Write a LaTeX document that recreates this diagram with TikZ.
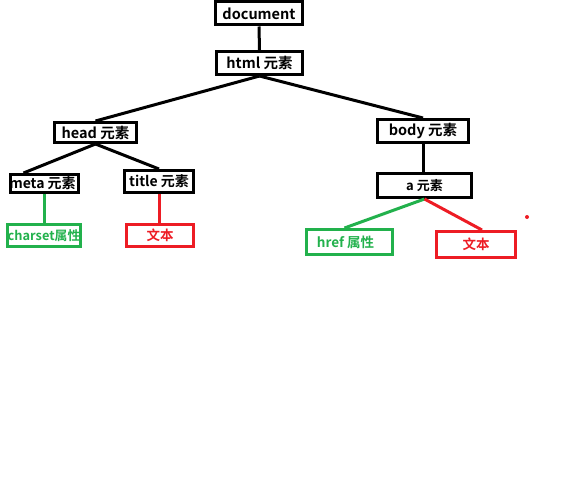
\documentclass[tikz,border=0pt]{standalone}
\usepackage{fontspec}
\setmainfont{Noto Sans CJK SC}[BoldFont=* Bold]
\definecolor{pgreen}{RGB}{34,177,76}
\definecolor{pred}{RGB}{237,28,36}
\tikzset{
  box/.style={draw=black, line width=3pt, inner sep=0pt, align=center, font=\bfseries\fontsize{14.5}{16}\selectfont, text=black},
  gbox/.style={box, draw=pgreen, text=pgreen, font=\bfseries\fontsize{13.5}{15}\selectfont},
  rbox/.style={box, draw=pred, text=pred, font=\bfseries\fontsize{13.5}{15}\selectfont},
  link/.style={line width=3pt, black},
  glink/.style={line width=3pt, pgreen},
  rlink/.style={line width=3pt, pred}
}
\begin{document}
\begin{tikzpicture}[x=1pt,y=-1pt]
\useasboundingbox (0,0) rectangle (586,500);
\node[box, minimum width=87, minimum height=23] (doc) at (259,13.5) {document};
\node[box, minimum width=86, minimum height=23] (html) at (259.5,63) {html 元素};
\node[box, minimum width=82, minimum height=20] (head) at (95.5,132.5) {head 元素};
\node[box, minimum width=91, minimum height=23] (body) at (423,131) {body 元素};
\node[box, minimum width=68, minimum height=18, font=\bfseries\fontsize{14}{15}\selectfont] (meta) at (44.5,183.5) {\hspace*{-4pt}meta 元素};
\node[box, minimum width=69, minimum height=22, font=\bfseries\fontsize{14}{15}\selectfont] (title) at (159,181.5) {title 元素};
\node[gbox, minimum width=71, minimum height=22, font=\bfseries\fontsize{12.8}{15}\selectfont] (charset) at (44,235.5) {charset属性};
\node[rbox, minimum width=67, minimum height=22] (txt1) at (160,235.5) {文本};
\node[box, minimum width=94, minimum height=24, font=\bfseries\fontsize{13}{14}\selectfont] (a) at (424.5,185.5) {\raisebox{-2pt}{a 元素}};
\node[gbox, minimum width=86, minimum height=25] (href) at (349.5,242) {\hspace*{-8pt}\raisebox{-2pt}{href 属性}};
\node[rbox, minimum width=79, minimum height=26] (txt2) at (476,244.5) {文本};
\draw[link] (doc.south) -- (html.north);
\draw[link] (html.south) -- (head.north);
\draw[link] (html.south) -- (body.north);
\draw[link] (head.south) -- ([xshift=-21]meta.north);
\draw[link] (head.south) -- (title.north);
\draw[glink] (meta.south) -- (meta.south |- charset.north);
\draw[rlink] (title.south) -- (title.south |- txt1.north);
\draw[link] (body.south) -- (body.south |- a.north);
\draw[glink] (a.south) -- ([xshift=-5]href.north);
\draw[rlink] (a.south) -- ([xshift=6]txt2.north);
\fill[pred] (527,217) circle (2);
\end{tikzpicture}
\end{document}
